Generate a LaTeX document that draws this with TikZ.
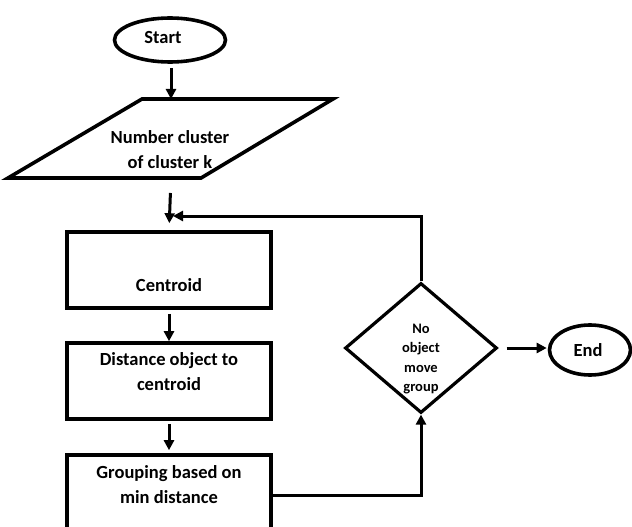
\documentclass[tikz,border=0pt]{standalone}
\usepackage{fontspec}
\setmainfont{Carlito}
\usetikzlibrary{shapes.geometric,arrows.meta}
\begin{document}
\begin{tikzpicture}[x=1pt,y=-1pt,
  shp/.style={draw=black,line width=3.6pt},
  box/.style={shp,rectangle,minimum width=204pt,minimum height=76pt,inner sep=0pt},
  oval/.style={shp,ellipse,inner sep=0pt},
  arr/.style={line width=3pt,-{Triangle[length=10pt,width=10pt]}},
  lbl/.style={font=\fontsize{18.5}{25}\selectfont\bfseries,align=center,inner sep=0pt},
  small/.style={font=\fontsize{14.5}{19.5}\selectfont\bfseries,align=center,inner sep=0pt}]
\clip (0,0) rectangle (632,527);
\fill[white] (0,0) rectangle (632,527);
% Start
\node[oval,minimum width=111pt,minimum height=44pt] (start) at (170,40) {};
\node[lbl] (starttxt) at (163,38) {Start};
% input parallelogram
\draw[shp,line join=miter] (142,99) -- (333,99) -- (201,178) -- (8,178) -- cycle;
\coordinate (pin) at (171,99);
\coordinate (pout) at (171,178);
\node[lbl] (inptxt) at (170,150) {Number cluster\\of cluster k};
% boxes
\node[box] (cen) at (169,270) {};
\node[lbl] (centxt) at (169,285) {Centroid};
\node[box] (dist) at (169,381) {};
\node[lbl] (disttxt) at (169,372) {Distance object to\\centroid};
\node[box,minimum height=100pt] (grp) at (169,505) {};
\node[lbl] (grptxt) at (169,485) {Grouping based on\\min distance};
% decision
\node[shp,diamond,line width=3.2pt,minimum width=152pt,minimum height=130pt,inner sep=0pt] (dia) at (421,348) {};
\node[small] (diatxt) at (421,359) {No\\object\\move\\group};
% End
\node[oval,minimum width=81pt,minimum height=50pt] (end) at (590,350) {};
\node[lbl] (endtxt) at (588,350) {End};
% connectors
\coordinate (jn) at (173,216);
\coordinate (gy) at (0,495);
\draw[arr,shorten <=4pt] (start.south -| pin) -- (pin);
\draw[arr,shorten <=15pt,shorten >=7pt] (pout) -- (cen.north);
\draw[arr,line join=miter] (dia.north) |- (jn);
\draw[arr,shorten <=4pt] (cen.south) -- (dist.north);
\draw[arr,shorten <=3pt,shorten >=3pt] (dist.south) -- (grp.north);
\draw[arr,line join=miter] (grp.east |- gy) -| (dia.south);
\draw[arr,shorten <=8pt,shorten >=1pt] (dia.east) -- (dia.east -| end.west);
\end{tikzpicture}
\end{document}
